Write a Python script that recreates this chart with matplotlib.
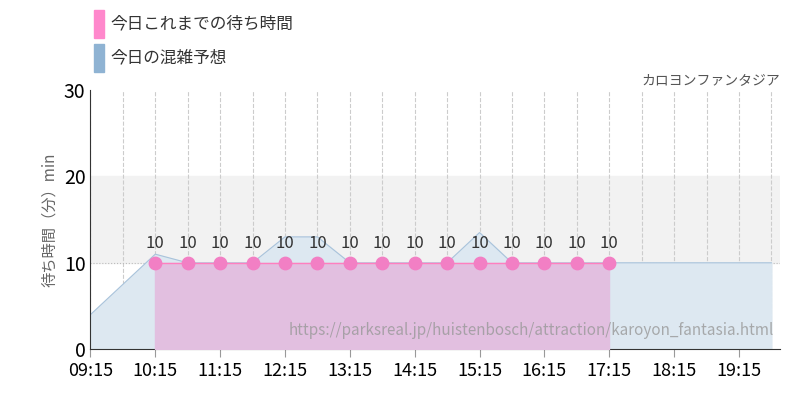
import numpy as np
import matplotlib
matplotlib.use("Agg")
import matplotlib.pyplot as plt

plt.rcParams['font.family'] = ['Noto Sans CJK JP', 'DejaVu Sans']

# minutes after 9:15, every 30 min
fc_t = [0, 30, 60, 90, 120, 150, 180, 210, 240, 270, 300, 330, 360, 390,
        420, 450, 480, 510, 540, 570, 600, 630]
fc_v = [4, 7.5, 11, 10, 10, 10, 13, 13, 10, 10, 10, 10, 13.5, 10,
        10, 10, 10, 10, 10, 10, 10, 10]
act_t = [60, 90, 120, 150, 180, 210, 240, 270, 300, 330, 360, 390, 420, 450, 480]
act_v = [10] * 15
tick_labels = ["09:15", "10:15", "11:15", "12:15", "13:15", "14:15",
               "15:15", "16:15", "17:15", "18:15", "19:15"]

fig = plt.figure(figsize=(8, 4), dpi=100)
ax = fig.add_axes([0.113, 0.127, 0.862, 0.648])

ax.axhspan(10, 20, color='#f2f2f2', zorder=0)
for m in range(0, 660, 30):
    ax.axvline(m, color='#cccccc', ls='--', lw=0.8, zorder=1)
ax.axhline(10, color='#bbbbbb', ls=':', lw=0.8, zorder=1)

ax.fill_between(fc_t, fc_v, color='#dde8f1', zorder=2)
ax.plot(fc_t, fc_v, color='#a9c3db', lw=0.8, zorder=2)
ax.fill_between(act_t, act_v, color='#e2bfe0', zorder=3)
ax.plot(act_t, act_v, color='#ff7fbf', lw=1, zorder=4)
ax.scatter(act_t, act_v, s=80, color='#f27fc4', zorder=5)
for t, v in zip(act_t, act_v):
    ax.text(t, v + 1.2, str(v), ha='center', va='bottom', fontsize=12, color='#333333', zorder=6)

ax.text(632, 1.2, "https://parksreal.jp/huistenbosch/attraction/karoyon_fantasia.html",
        ha='right', va='bottom', fontsize=11, color='#999999', alpha=0.8, zorder=7)

ax.set_xlim(0, 638)
ax.set_ylim(0, 30)
ax.set_xticks(range(0, 660, 60))
ax.set_xticklabels(tick_labels, fontsize=13)
ax.set_yticks([0, 10, 20, 30])
ax.tick_params(axis='y', labelsize=14, length=0)
ax.tick_params(axis='x', length=6, color='#999999')
for s in ['top', 'right']:
    ax.spines[s].set_visible(False)
ax.spines['left'].set_color('#333333')
ax.spines['bottom'].set_color('#333333')
ax.set_ylabel("待ち時間（分）min", fontsize=11, color='#666666')

ax.text(1.0, 1.01, "カロヨンファンタジア", transform=ax.transAxes, ha='right', va='bottom',
        fontsize=10, color='#555555')

fig.patches.append(plt.Rectangle((0.118, 0.905), 0.012, 0.07, transform=fig.transFigure, color='#ff88cc'))
fig.patches.append(plt.Rectangle((0.118, 0.82), 0.012, 0.07, transform=fig.transFigure, color='#8fb3d3'))
fig.text(0.138, 0.94, "今日これまでの待ち時間", fontsize=12, va='center', color='#333333')
fig.text(0.138, 0.855, "今日の混雑予想", fontsize=12, va='center', color='#333333')

fig.savefig("out.png")
